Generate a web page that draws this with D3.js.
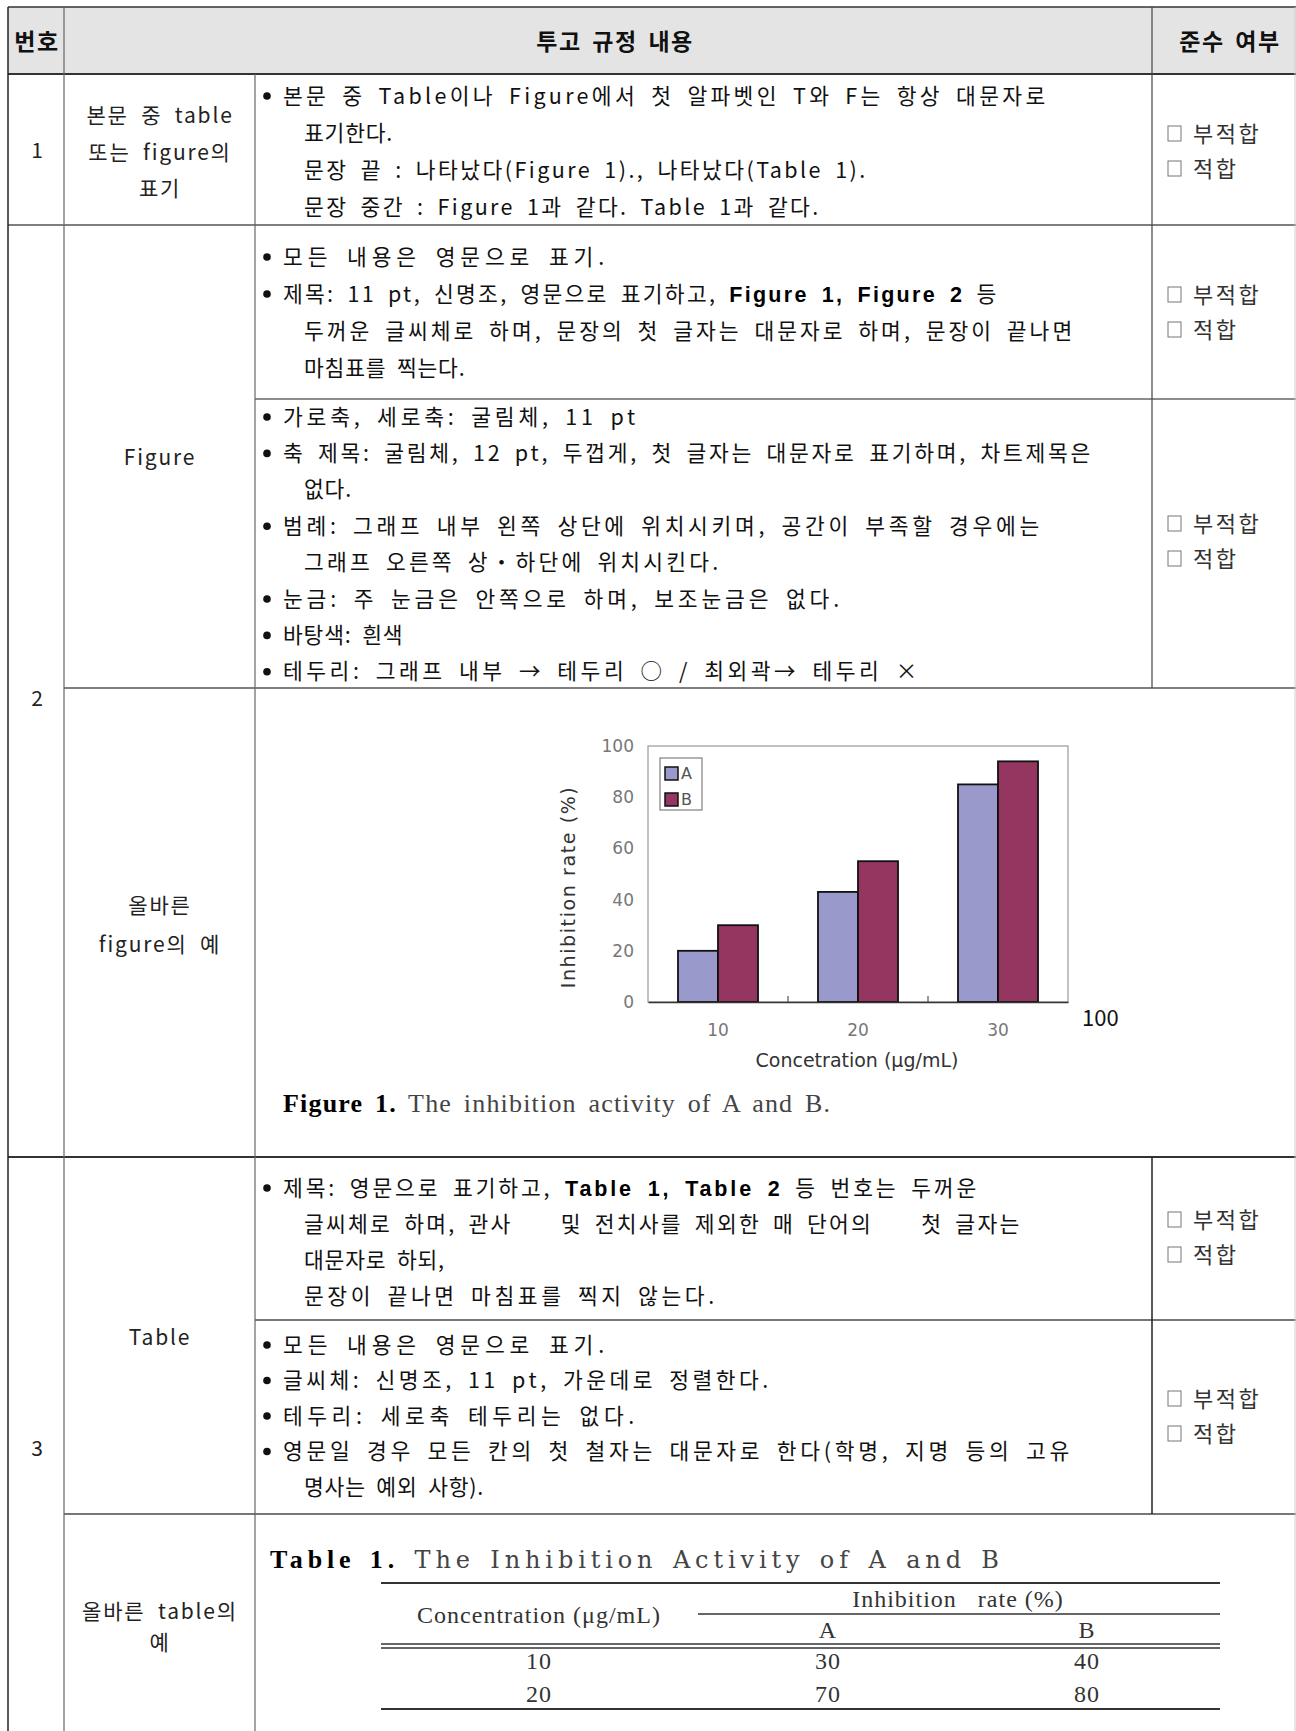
<!DOCTYPE html>
<html>
<head>
<meta charset="utf-8">
<script src="https://cdn.jsdelivr.net/npm/d3@7"></script>
<style>
  body { margin: 0; background: #fff; }
  svg text { font-family: "Noto Sans CJK KR", "Noto Sans", sans-serif; }
</style>
</head>
<body>
<svg id="page" width="1296" height="1731"></svg>
<script>
// chart data
const concentrations = ["10", "20", "30"];
const seriesNames = ["A", "B"];
const rateA = [20, 43, 85];
const rateB = [30, 55, 94];
const yTicks = [0, 20, 40, 60, 80, 100];
const seriesColors = ["#9999cc", "#943660"];

// example table values
const tableConc = ["10", "20"];
const tableA = ["30", "70"];
const tableB = ["40", "80"];

// document text
const headers = ["번호", "투고 규정 내용", "준수 여부"];
const row1Label = ["본문 중 table", "또는 figure의", "표기"];
const row1Lines = [
  "• 본문 중 Table이나 Figure에서 첫 알파벳인 T와 F는 항상 대문자로",
  "표기한다.",
  "문장 끝 : 나타났다(Figure 1)., 나타났다(Table 1).",
  "문장 중간 : Figure 1과 같다. Table 1과 같다."
];
const row2aLines = [
  "• 모든 내용은 영문으로 표기.",
  "• 제목: 11 pt, 신명조, 영문으로 표기하고, **Figure 1, Figure 2** 등",
  "두꺼운 글씨체로 하며, 문장의 첫 글자는 대문자로 하며, 문장이 끝나면",
  "마침표를 찍는다."
];
const row2bLines = [
  "• 가로축, 세로축: 굴림체, 11 pt",
  "• 축 제목: 굴림체, 12 pt, 두껍게, 첫 글자는 대문자로 표기하며, 차트제목은",
  "없다.",
  "• 범례: 그래프 내부 왼쪽 상단에 위치시키며, 공간이 부족할 경우에는",
  "그래프 오른쪽 상・하단에 위치시킨다.",
  "• 눈금: 주 눈금은 안쪽으로 하며, 보조눈금은 없다.",
  "• 바탕색: 흰색",
  "• 테두리: 그래프 내부 → 테두리 ○ / 최외곽→ 테두리 ×"
];
const row3aLines = [
  "• 제목: 영문으로 표기하고, **Table 1, Table 2** 등 번호는 두꺼운",
  "글씨체로 하며, 관사    및 전치사를 제외한 매 단어의    첫 글자는",
  "대문자로 하되,",
  "문장이 끝나면 마침표를 찍지 않는다."
];
const row3bLines = [
  "• 모든 내용은 영문으로 표기.",
  "• 글씨체: 신명조, 11 pt, 가운데로 정렬한다.",
  "• 테두리: 세로축 테두리는 없다.",
  "• 영문일 경우 모든 칸의 첫 철자는 대문자로 한다(학명, 지명 등의 고유",
  "명사는 예외 사항)."
];
const checkLabels = ["부적합", "적합"];

const svg = d3.select("#page");
const serif = "'Liberation Serif', 'DejaVu Serif', serif";
const wideSerif = "'DejaVu Serif', 'Liberation Serif', serif";
const latinSans = "'DejaVu Sans', sans-serif";

// ---------- table frame ----------
svg.append("rect").attr("x", 8).attr("y", 7).attr("width", 1288).attr("height", 67).attr("fill", "#e4e4e4");

const hLines = [
  { y: 7, x1: 8, x2: 1296, c: "#333", w: 1.5 },
  { y: 74, x1: 8, x2: 1296, c: "#333", w: 2 },
  { y: 225, x1: 8, x2: 1296, c: "#555", w: 1.5 },
  { y: 399, x1: 255, x2: 1296, c: "#666", w: 1.5 },
  { y: 688, x1: 64, x2: 1296, c: "#555", w: 1.5 },
  { y: 1157, x1: 8, x2: 1296, c: "#333", w: 2 },
  { y: 1320, x1: 255, x2: 1296, c: "#777", w: 2 },
  { y: 1514, x1: 64, x2: 1296, c: "#777", w: 2 }
];
const vLines = [
  { x: 8, y1: 7, y2: 1731, c: "#222", w: 1.5 },
  { x: 64, y1: 7, y2: 1731, c: "#666", w: 1.2 },
  { x: 255, y1: 74, y2: 1731, c: "#666", w: 1.2 },
  { x: 1152, y1: 7, y2: 688, c: "#444", w: 1.2 },
  { x: 1152, y1: 1157, y2: 1514, c: "#222", w: 1.5 },
  { x: 1295, y1: 7, y2: 1731, c: "#ccc", w: 1 }
];
svg.selectAll("line.h").data(hLines).join("line").attr("class", "h")
  .attr("x1", d => d.x1).attr("x2", d => d.x2).attr("y1", d => d.y).attr("y2", d => d.y)
  .attr("stroke", d => d.c).attr("stroke-width", d => d.w);
svg.selectAll("line.v").data(vLines).join("line").attr("class", "v")
  .attr("x1", d => d.x).attr("x2", d => d.x).attr("y1", d => d.y1).attr("y2", d => d.y2)
  .attr("stroke", d => d.c).attr("stroke-width", d => d.w);

// header text
[37, 615, 1230].forEach((x, i) => {
  svg.append("text").attr("x", x).attr("y", 50).attr("text-anchor", "middle")
    .attr("font-size", 23).attr("font-weight", "bold").attr("fill", "#111")
    .attr("letter-spacing", 1.5).attr("word-spacing", 4)
    .text(headers[i]);
});

// row numbers
[["1", 150], ["2", 698], ["3", 1448]].forEach(([t, y]) => {
  svg.append("text").attr("x", 37).attr("y", y + 8).attr("text-anchor", "middle")
    .attr("font-size", 21).attr("fill", "#222").text(t);
});

// left labels
function centerLabel(lines, y0, step) {
  lines.forEach((t, i) => {
    svg.append("text").attr("x", 160).attr("y", y0 + i * step + 8).attr("text-anchor", "middle")
      .attr("font-size", 21).attr("fill", "#222")
      .attr("letter-spacing", 1.8).attr("word-spacing", 6)
      .text(t);
  });
}
centerLabel(row1Label, 115, 36.5);
centerLabel(["Figure"], 457, 0);
centerLabel(["올바른", "figure의 예"], 905, 39);
centerLabel(["Table"], 1337, 0);
centerLabel(["올바른 table의", "예"], 1611, 31);

// text line with **bold** segments
function addLine(x, y, str, end, opts) {
  const t = svg.append("text").attr("x", x).attr("y", y)
    .attr("font-size", opts.size).attr("fill", opts.fill || "#111")
    .attr("letter-spacing", opts.ls || 0).attr("word-spacing", opts.ws || 0)
    .style("white-space", "pre");
  if (opts.family) t.style("font-family", opts.family);
  str.split(/(\*\*.*?\*\*)/).forEach(part => {
    if (!part) return;
    const bold = part.startsWith("**");
    const s = t.append("tspan").text(bold ? part.slice(2, -2) : part);
    if (bold) {
      s.attr("font-weight", "bold").attr("fill", "#000");
      if (opts.boldFamily) s.style("font-family", opts.boldFamily);
      if (opts.boldSize) s.attr("font-size", opts.boldSize);
    }
  });
  if (end) t.attr("textLength", end - x).attr("lengthAdjust", "spacing");
  return t;
}

function cellLines(lines, ends, y0, step) {
  lines.forEach((s, i) => {
    const yy = y0 + i * step;
    let x = 304;
    if (s.startsWith("•")) {
      svg.append("circle").attr("cx", 267).attr("cy", yy).attr("r", 3.8).attr("fill", "#111");
      s = s.slice(2);
      x = 283;
    }
    addLine(x, yy + 7.5, s, ends[i], {
      size: 21.5, ls: 0.8, ws: 5,
      boldFamily: "'Liberation Sans', Arial, sans-serif"
    });
  });
}
cellLines(row1Lines, [1046, null, 866, 819], 96, 37.3);
cellLines(row2aLines, [605, 997, 1073, null], 257, 37);
cellLines(row2bLines, [636, 1091, null, 1040, 719, 840, null, 918], 417, 36.4);
cellLines(row3aLines, [977, 1020, null, 715], 1188, 36.3);
cellLines(row3bLines, [605, 769, 635, 1070, null], 1345, 35.5);

// compliance checkboxes
[134, 295, 524, 1220, 1399].forEach(y => {
  checkLabels.forEach((t, i) => {
    const yy = y + i * 35;
    svg.append("rect").attr("x", 1168).attr("y", yy - 8).attr("width", 13).attr("height", 15)
      .attr("fill", "none").attr("stroke", "#777").attr("stroke-width", 1);
    svg.append("text").attr("x", 1193).attr("y", yy + 8)
      .attr("font-size", 22).attr("fill", "#333").attr("letter-spacing", 2.5).text(t);
  });
});

// ---------- example figure ----------
const chart = svg.append("g");
const x0 = d3.scaleBand().domain(concentrations).range([648, 1068]).padding(0);
const x1 = d3.scaleBand().domain(seriesNames).range([0, x0.bandwidth()]).paddingInner(0).paddingOuter(0.75);
const y = d3.scaleLinear().domain([0, 100]).range([1002, 746]);

chart.append("rect").attr("x", 648).attr("y", y(100))
  .attr("width", 1068 - 648).attr("height", y(0) - y(100))
  .attr("fill", "#fff").attr("stroke", "#999").attr("stroke-width", 1.2);

const barData = concentrations.flatMap((c, i) => [
  { c, s: "A", v: rateA[i] },
  { c, s: "B", v: rateB[i] }
]);
chart.selectAll("rect.bar").data(barData).join("rect").attr("class", "bar")
  .attr("x", d => x0(d.c) + x1(d.s))
  .attr("y", d => y(d.v))
  .attr("width", x1.bandwidth())
  .attr("height", d => y(0) - y(d.v))
  .attr("fill", d => seriesColors[seriesNames.indexOf(d.s)])
  .attr("stroke", "#111").attr("stroke-width", 1.8);

// y axis
const yAxis = chart.append("g").attr("transform", "translate(648,0)")
  .call(d3.axisLeft(y).tickValues(yTicks).tickSize(0).tickPadding(14));
yAxis.select(".domain").remove();
yAxis.selectAll("text").attr("font-size", 17).attr("fill", "#777").style("font-family", latinSans);

// x axis
const xAxis = chart.append("g").attr("transform", "translate(0,1002)")
  .call(d3.axisBottom(x0).tickSize(0).tickPadding(22));
xAxis.select(".domain").attr("stroke", "#333").attr("stroke-width", 1.5);
xAxis.selectAll("text").attr("font-size", 17).attr("fill", "#777").style("font-family", latinSans);
// inward ticks at the band boundaries
chart.selectAll("line.xt").data(concentrations.slice(1)).join("line").attr("class", "xt")
  .attr("x1", d => x0(d)).attr("x2", d => x0(d))
  .attr("y1", y(0)).attr("y2", y(0) - 6)
  .attr("stroke", "#555").attr("stroke-width", 1.2);

chart.append("text").attr("transform", "translate(575,887) rotate(-90)")
  .attr("text-anchor", "middle").attr("font-size", 19).attr("fill", "#333")
  .attr("letter-spacing", 1.6).style("font-family", latinSans)
  .text("Inhibition rate (%)");
chart.append("text").attr("x", 857).attr("y", 1067).attr("text-anchor", "middle")
  .attr("font-size", 19).attr("fill", "#333").style("font-family", latinSans)
  .text("Concetration (μg/mL)");

// legend
const legend = chart.append("g");
legend.append("rect").attr("x", 660).attr("y", 758).attr("width", 42).attr("height", 52)
  .attr("fill", "#fff").attr("stroke", "#666").attr("stroke-width", 1);
seriesNames.forEach((s, i) => {
  legend.append("rect").attr("x", 665).attr("y", 767 + i * 26).attr("width", 13).attr("height", 13)
    .attr("fill", seriesColors[i]).attr("stroke", "#111").attr("stroke-width", 1.5);
  legend.append("text").attr("x", 681).attr("y", 779 + i * 26).attr("font-size", 16)
    .attr("fill", "#555").style("font-family", latinSans).text(s);
});

// stray label next to the plot
svg.append("text").attr("x", 1082).attr("y", 1026).attr("font-size", 22).attr("fill", "#111").text("100");

// caption
addLine(283, 1112, "**Figure 1.** The inhibition activity of A and B.", 830,
  { size: 26, ws: 4, family: serif, boldFamily: serif, fill: "#444" });

// ---------- example table ----------
addLine(270, 1568, "**Table 1.** The Inhibition Activity of A and B", 999,
  { size: 24, ws: 3, family: wideSerif, boldFamily: serif, boldSize: 26, fill: "#444" });

const rules = [
  { y: 1583, x1: 381, w: 2 },
  { y: 1614, x1: 698, w: 1.3 },
  { y: 1644, x1: 381, w: 1.5 },
  { y: 1648, x1: 381, w: 1.5 },
  { y: 1709, x1: 381, w: 2 }
];
svg.selectAll("line.rule").data(rules).join("line").attr("class", "rule")
  .attr("x1", d => d.x1).attr("x2", 1220).attr("y1", d => d.y).attr("y2", d => d.y)
  .attr("stroke", "#333").attr("stroke-width", d => d.w);

const colX = [539, 828, 1087];
function tcell(x, y, t) {
  svg.append("text").attr("x", x).attr("y", y + 8).attr("text-anchor", "middle")
    .attr("font-size", 24).attr("fill", "#333").attr("letter-spacing", 1)
    .style("font-family", serif).style("white-space", "pre").text(t);
}
tcell(colX[0], 1615, "Concentration (μg/mL)");
tcell(958, 1599, "Inhibition   rate (%)");
tcell(colX[1], 1630, "A");
tcell(colX[2], 1630, "B");
tableConc.forEach((c, i) => {
  const yy = 1661 + i * 33;
  tcell(colX[0], yy, c);
  tcell(colX[1], yy, tableA[i]);
  tcell(colX[2], yy, tableB[i]);
});
</script>
</body>
</html>
